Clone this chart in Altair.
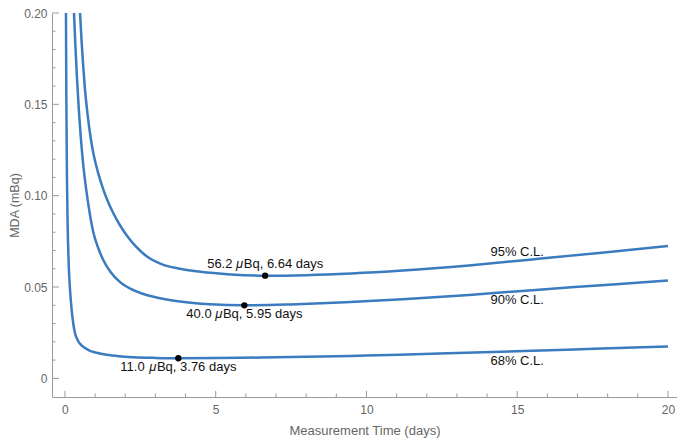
import altair as alt
import pandas as pd

# ---- curve values (days, mBq) ----
t68 = [0.033, 0.045, 0.066, 0.09, 0.12, 0.16, 0.20, 0.255, 0.33, 0.42, 0.50, 0.65, 0.83, 1.05, 1.38, 1.8,
       2.27, 3.0, 3.76, 5.0, 6.5, 8.0, 9.5, 11.1, 13.3, 15.5, 17.8, 20.0]
v68 = [0.200, 0.155, 0.110, 0.083, 0.0645, 0.0505, 0.0415, 0.0325, 0.0250, 0.0210, 0.0189, 0.0167, 0.0151,
       0.0140, 0.0129, 0.0121, 0.0116, 0.0112, 0.0110, 0.0111, 0.0114, 0.0118, 0.0123, 0.0129, 0.0140,
       0.0151, 0.0163, 0.0174]

t90 = [0.30, 0.34, 0.40, 0.46, 0.52, 0.60, 0.72, 0.83, 0.94, 1.1, 1.27, 1.5, 1.82, 2.2, 2.71, 3.2, 3.81, 4.8,
       5.95, 7.5, 9.3, 11.2, 13.4, 15.5, 17.8, 20.0]
v90 = [0.200, 0.184, 0.164, 0.147, 0.133, 0.118, 0.1015, 0.0895, 0.080, 0.0715, 0.0648, 0.0585, 0.0528,
       0.0488, 0.0456, 0.0437, 0.0421, 0.0406, 0.0400, 0.0405, 0.0416, 0.0433, 0.0457, 0.0483, 0.0510, 0.0536]

t95 = [0.50, 0.55, 0.60, 0.66, 0.75, 0.85, 0.95, 1.1, 1.27, 1.4, 1.6, 1.8, 2.05, 2.35, 2.71, 3.2, 3.81, 4.5,
       5.5, 6.64, 8.0, 9.5, 11.2, 13.4, 15.5, 17.8, 20.0]
v95 = [0.200, 0.185, 0.172, 0.159, 0.1445, 0.132, 0.1225, 0.1125, 0.1035, 0.0978, 0.0905, 0.0845, 0.0782,
       0.0722, 0.0668, 0.0625, 0.0600, 0.0583, 0.0569, 0.0562, 0.0565, 0.0574, 0.0590, 0.0618, 0.0651,
       0.0688, 0.0725]

# ---- minima annotations ----
min_t = [6.64, 5.95, 3.76]
min_v = [0.0562, 0.0400, 0.0110]
min_num = ["56.2", "40.0", "11.0"]
min_days = ["6.64", "5.95", "3.76"]

# ---- curve labels ----
cl_names = ["95% C.L.", "90% C.L.", "68% C.L."]
cl_t = [15.0, 15.0, 15.0]
cl_v = [0.0694, 0.0430, 0.0097]

# ---- ticks ----
x_major = [0, 5, 10, 15, 20]
x_minor = [1, 2, 3, 4, 6, 7, 8, 9, 11, 12, 13, 14, 16, 17, 18, 19]
y_major = [0.0, 0.05, 0.10, 0.15, 0.20]
y_minor = [0.01, 0.02, 0.03, 0.04, 0.06, 0.07, 0.08, 0.09, 0.11, 0.12, 0.13, 0.14, 0.16, 0.17, 0.18, 0.19]

BLUE = "#3b7bbf"
FONT = "Liberation Sans"
AXC = "#9a9a9a"
LBC = "#666666"
W, H = 625, 384

xs = alt.Scale(domain=[-0.43, 20.3], nice=False, zero=False)
ys = alt.Scale(domain=[-0.0102, 0.2], nice=False, zero=False)

curves = pd.concat([
    pd.DataFrame({"t": t68, "v": v68, "cl": "68"}),
    pd.DataFrame({"t": t90, "v": v90, "cl": "90"}),
    pd.DataFrame({"t": t95, "v": v95, "cl": "95"}),
])

xaxis = alt.Axis(title="Measurement Time (days)", values=x_major, format="d", grid=False,
                 ticks=False, labelPadding=7, labelFontSize=12, labelColor=LBC,
                 labelFont=FONT, domainColor=AXC, titleFont=FONT, titleFontSize=13,
                 titleColor=LBC, titleFontWeight="normal", titlePadding=9)
yaxis = alt.Axis(title="MDA (mBq)", values=y_major,
                 labelExpr="datum.value == 0 ? '0' : format(datum.value, '.2f')",
                 grid=False, ticks=False, labelPadding=5, labelFontSize=12,
                 labelColor=LBC, labelFont=FONT, domainColor=AXC, titleFont=FONT,
                 titleFontSize=12.5, titleColor=LBC, titleFontWeight="normal", titlePadding=2)

X = alt.X("t:Q", scale=xs, axis=xaxis)
Y = alt.Y("v:Q", scale=ys, axis=yaxis)

lines = alt.Chart(curves).mark_line(color=BLUE, strokeWidth=2.5, interpolate="monotone", clip=True).encode(
    x=X, y=Y, detail="cl:N",
)

def xticks(vals, length):
    return alt.Chart(pd.DataFrame({"t": vals})).mark_rule(color=AXC, strokeWidth=1).encode(
        x=X, y=alt.value(H), y2=alt.value(H - length))

def yticks(vals, length):
    return alt.Chart(pd.DataFrame({"v": vals})).mark_rule(color=AXC, strokeWidth=1).encode(
        y=Y, x=alt.value(0), x2=alt.value(length))

mins = pd.DataFrame({"t": min_t, "v": min_v, "num": min_num,
                     "rest": ["Bq, " + d + " days" for d in min_days]})

dots = alt.Chart(mins).mark_circle(size=40, color="black", opacity=1).encode(x=X, y=Y)

def ann(df, dy):
    base = alt.Chart(df).encode(x=X, y=Y)
    common = dict(baseline="middle", dy=dy, font=FONT, fontSize=13, color="#111111")
    p1 = base.mark_text(align="left", dx=-58, **common).encode(text="num:N")
    p2 = base.mark_text(align="left", dx=-29.1, fontStyle="italic", text="μ", **common)
    p3 = base.mark_text(align="left", dx=-21.4, **common).encode(text="rest:N")
    return [p1, p2, p3]

ann_above = ann(mins.iloc[[0]], -12)
ann_below = ann(mins.iloc[[1, 2]], 9)

cl_df = pd.DataFrame({"t": cl_t, "v": cl_v, "name": cl_names})
cl_text = alt.Chart(cl_df).mark_text(align="center", baseline="middle", font=FONT, fontSize=13,
                                     color="#111111").encode(x=X, y=Y, text="name:N")

chart = alt.layer(
    lines,
    xticks(x_major, 6), xticks(x_minor, 3.5),
    yticks(y_major, 7), yticks(y_minor, 3.5),
    dots, *ann_above, *ann_below, cl_text,
).properties(
    width=W, height=H,
    autosize=alt.AutoSizeParams(type="none"),
    padding={"left": 44, "top": 5, "right": 0, "bottom": 43},
).configure_view(stroke=None)

chart.save("out.html", embed_options={"renderer": "svg", "actions": False})
